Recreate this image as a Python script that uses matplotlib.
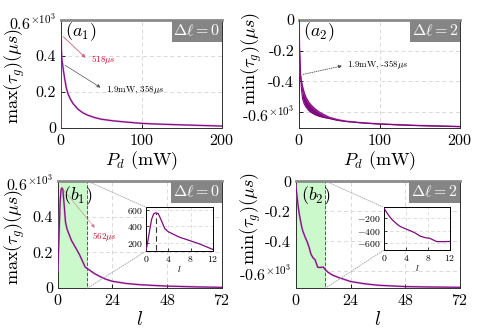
import matplotlib

matplotlib.use("Agg")
import matplotlib.pyplot as plt
from matplotlib.patches import Rectangle, ConnectionPatch
from matplotlib.ticker import FuncFormatter

plt.rcParams["font.family"] = "cmr10"
plt.rcParams["mathtext.fontset"] = "cm"
plt.rcParams["axes.formatter.use_mathtext"] = True
plt.rcParams["axes.unicode_minus"] = False

# ---- data (tau in microseconds) ----
# (a1) max tau_g vs pump power, delta l = 0
P_a1 = [0, 0, 0.3, 0.7, 1.2, 1.9, 3, 4.5, 6.5, 8.7, 12, 15, 21, 27, 33.5,
        42, 50, 65, 79, 100, 120, 141, 170, 200]
tau_a1 = [0, 518, 470, 420, 375, 358, 320, 277, 225, 190, 158, 136, 105, 85,
          71, 58, 49, 40, 34, 26, 22, 19, 15, 11]

# (a2) min tau_g vs pump power, delta l = 2 (band: upper / lower envelope)
P_a2 = [0, 0.3, 0.7, 1.2, 1.9, 3, 4.5, 6.5, 8.7, 12, 15, 20, 25, 30, 37.7,
        48, 58, 79, 100, 141, 170, 200]
tau_a2_hi = [0, -100, -190, -270, -358, -400, -435, -475, -505, -535, -555,
             -580, -600, -615, -635, -650, -660, -671, -678, -687, -691, -695]
tau_a2_lo = [0, -100, -190, -270, -358, -450, -515, -548, -568, -590, -603,
             -618, -628, -635, -643, -655, -662, -672, -679, -688, -692, -696]

# (b1) max tau_g vs l, delta l = 0
l_b1 = [0, 0.4, 1, 1.4, 1.8, 2.2, 2.8, 3.35, 4, 4.8, 6, 7.8, 9.5, 12, 14,
        16, 18.5, 21, 24, 30, 36, 48, 60, 72]
tau_b1 = [98, 247, 482, 553, 562, 553, 463, 372, 333, 306, 267, 227, 188,
          118, 100, 82, 65, 50, 38, 26, 19, 11, 7, 4]

# (b2) min tau_g vs l, delta l = 2
l_b2 = [0, 0.5, 1, 1.5, 2, 2.5, 3, 4, 5, 5.8, 6.6, 7.5, 8.4, 9, 9.6, 10.5,
        12, 13, 14, 16, 19, 24, 30, 36, 48, 60, 72]
tau_b2 = [-30, -100, -165, -220, -260, -300, -330, -370, -405, -440, -485,
          -510, -522, -548, -573, -575, -572, -590, -605, -625, -643, -668,
          -683, -693, -702, -705, -707]

zoom_l = 13  # extent of the shaded (zoomed) region

PURPLE = "#7d0b7d"
LIGHT = "#c86ac8"
GRID = "#d9d9d9"


def sci_fmt(top):
    def f(v, _):
        s = f"{v / 1000:g}"
        if abs(v - top) < 1e-6:
            s += r"$^{\times10^3}$"
        return s
    return FuncFormatter(f)


def style(ax):
    ax.tick_params(direction="in", labelsize=11.5, length=3, width=0.6)
    for s in ax.spines.values():
        s.set_color("#303030")
        s.set_linewidth(0.7)
    ax.spines["top"].set_color("#8c8c8c")
    ax.spines["top"].set_linewidth(2.0)
    ax.grid(True, ls=(0, (4, 3)), color=GRID, lw=0.7)
    ax.set_axisbelow(True)


def tag(ax, text):
    ax.add_patch(Rectangle((0.69, 0.8), 0.31, 0.2, transform=ax.transAxes,
                           facecolor="#858585", edgecolor="none", zorder=5))
    ax.text(0.845, 0.9, text, transform=ax.transAxes, ha="center",
            va="center", color="white", fontsize=11.5, zorder=6)


def curve(ax, x, y, lw=0.8):
    ax.plot(x, y, color=LIGHT, lw=lw + 0.7, alpha=0.6, zorder=3)
    ax.plot(x, y, color=PURPLE, lw=lw, zorder=4)


fig = plt.figure(figsize=(4.78, 3.30), dpi=100)
ax1 = fig.add_axes([0.1276, 0.612, 0.337, 0.327])
ax2 = fig.add_axes([0.6255, 0.612, 0.337, 0.327])
ax3 = fig.add_axes([0.121, 0.127, 0.343, 0.324])
ax4 = fig.add_axes([0.619, 0.127, 0.343, 0.324])

# ---- (a1) ----
style(ax1)
curve(ax1, P_a1, tau_a1)
ax1.set_xlim(0, 200)
ax1.set_ylim(0, 600)
ax1.set_xticks([0, 100, 200])
ax1.set_yticks([0, 200, 400, 600])
ax1.yaxis.set_major_formatter(sci_fmt(600))
ax1.set_xlabel(r"$P_d$ (mW)", fontsize=13, labelpad=1)
ax1.set_ylabel(r"$\max(\tau_g)(\mu s)$", fontsize=13)
ax1.yaxis.set_label_coords(-0.21, 0.48)
ax1.text(0.025, 0.89, r"$(a_1)$", transform=ax1.transAxes, fontsize=13,
         va="center")
tag(ax1, r"$\Delta\ell=0$")
ax1.annotate("", xy=(33, 380), xytext=(0.5, 518),
             arrowprops=dict(arrowstyle="-|>", color="#d2607a", lw=0.6,
                             mutation_scale=5), zorder=6)
ax1.text(37, 380, r"518$\mu s$", color="#c8102e", fontsize=6.5, va="center")
ax1.annotate("", xy=(52, 217), xytext=(1.9, 358),
             arrowprops=dict(arrowstyle="-|>", color="#555555", lw=0.5,
                             mutation_scale=5), zorder=6)
ax1.text(56, 214, r"1.9mW, 358$\mu s$", color="black", fontsize=6.5,
         va="center")

# ---- (a2) ----
style(ax2)
ax2.fill_between(P_a2, tau_a2_lo, tau_a2_hi, color=PURPLE, lw=0, zorder=3)
ax2.plot(P_a2, tau_a2_hi, color=LIGHT, lw=1.3, alpha=0.6, zorder=3)
ax2.plot(P_a2, tau_a2_lo, color=PURPLE, lw=0.8, zorder=4)
ax2.plot(P_a2, tau_a2_hi, color=PURPLE, lw=0.7, zorder=4)
ax2.set_xlim(0, 200)
ax2.set_ylim(-705, 0)
ax2.set_xticks([0, 100, 200])
ax2.set_yticks([-600, -400, -200, 0])
ax2.yaxis.set_major_formatter(sci_fmt(-600))
ax2.set_xlabel(r"$P_d$ (mW)", fontsize=13, labelpad=1)
ax2.set_ylabel(r"$\min(\tau_g)(\mu s)$", fontsize=13)
ax2.yaxis.set_label_coords(-0.22, 0.64)
ax2.text(0.025, 0.89, r"$(a_2)$", transform=ax2.transAxes, fontsize=13,
         va="center")
tag(ax2, r"$\Delta\ell=2$")
ax2.annotate("", xy=(57, -295), xytext=(1.9, -358),
             arrowprops=dict(arrowstyle="-|>", color="#444444", lw=0.6,
                             ls=":", mutation_scale=5), zorder=6)
ax2.text(60, -292, r"1.9mW, -358$\mu s$", color="black", fontsize=6.5,
         va="center")

# ---- (b1) ----
style(ax3)
ax3.axvspan(0, zoom_l, facecolor="#ccf9cc", edgecolor="#3b6e3b", ls="--",
            lw=0.7, zorder=1)
curve(ax3, l_b1, tau_b1)
ax3.set_xlim(0, 72)
ax3.set_ylim(0, 600)
ax3.set_xticks([0, 24, 48, 72])
ax3.set_yticks([0, 200, 400, 600])
ax3.yaxis.set_major_formatter(sci_fmt(600))
ax3.set_xlabel(r"$l$", fontsize=14, labelpad=2)
ax3.set_ylabel(r"$\max(\tau_g)(\mu s)$", fontsize=13)
ax3.yaxis.set_label_coords(-0.19, 0.48)
ax3.text(0.03, 0.86, r"$(b_1)$", transform=ax3.transAxes, fontsize=13,
         va="center", zorder=6)
tag(ax3, r"$\Delta\ell=0$")
i_pk = tau_b1.index(max(tau_b1))
ax3.annotate("", xy=(17, 326), xytext=(l_b1[i_pk], tau_b1[i_pk]),
             arrowprops=dict(arrowstyle="-|>", color="#c9506a", lw=0.5,
                             alpha=0.6, mutation_scale=5), zorder=6)
ax3.text(15, 289, r"562$\mu s$", color="#c8102e", fontsize=6.5, va="center")

in1 = fig.add_axes([0.3054, 0.239, 0.140, 0.133])
in1.plot(l_b1, tau_b1, color=PURPLE, lw=0.9, zorder=3)
in1.plot([l_b1[i_pk], l_b1[i_pk]], [0, tau_b1[i_pk]], color="#333333",
         ls=(0, (5, 3)), lw=0.8)
in1.set_xlim(0, 12)
in1.set_ylim(98, 630)
in1.set_xticks([0, 4, 8, 12])
in1.set_yticks([200, 400, 600])
in1.tick_params(direction="in", labelsize=7, length=2, width=0.5, pad=2)
in1.grid(True, ls=(0, (4, 3)), color=GRID, lw=0.6)
in1.set_xlabel(r"$l$", fontsize=7, labelpad=0)
for s in in1.spines.values():
    s.set_linewidth(0.7)

for (xa, ya), (xb, yb) in [((zoom_l, 600), (0, 1)), ((zoom_l, 0), (0, 0))]:
    fig.add_artist(ConnectionPatch((xa, ya), (xb, yb), coordsA=ax3.transData,
                                   coordsB=in1.transAxes, ls=":", lw=0.6,
                                   color="#999999"))

# ---- (b2) ----
style(ax4)
ax4.axvspan(0, zoom_l, facecolor="#ccf9cc", edgecolor="#3b6e3b", ls="--",
            lw=0.7, zorder=1)
curve(ax4, l_b2, tau_b2)
ax4.set_xlim(0, 72)
ax4.set_ylim(-712, 0)
ax4.set_xticks([0, 24, 48, 72])
ax4.set_yticks([-600, -400, -200, 0])
ax4.yaxis.set_major_formatter(sci_fmt(-600))
ax4.set_xlabel(r"$l$", fontsize=14, labelpad=2)
ax4.set_ylabel(r"$\min(\tau_g)(\mu s)$", fontsize=13)
ax4.yaxis.set_label_coords(-0.2, 0.65)
ax4.text(0.03, 0.86, r"$(b_2)$", transform=ax4.transAxes, fontsize=13,
         va="center", zorder=6)
tag(ax4, r"$\Delta\ell=2$")

in2 = fig.add_axes([0.803, 0.242, 0.138, 0.130])
in2.plot(l_b2, tau_b2, color=PURPLE, lw=0.9, zorder=3)
in2.set_xlim(0, 12)
in2.set_ylim(-712, -19)
in2.set_xticks([0, 4, 8, 12])
in2.set_yticks([-600, -400, -200])
in2.tick_params(direction="in", labelsize=7, length=2, width=0.5, pad=2)
in2.grid(True, ls=(0, (4, 3)), color=GRID, lw=0.6)
in2.set_xlabel(r"$l$", fontsize=7, labelpad=0)
for s in in2.spines.values():
    s.set_linewidth(0.7)

for (xa, ya), (xb, yb) in [((zoom_l, 0), (0, 1)), ((zoom_l, -712), (0, 0))]:
    fig.add_artist(ConnectionPatch((xa, ya), (xb, yb), coordsA=ax4.transData,
                                   coordsB=in2.transAxes, ls=":", lw=0.6,
                                   color="#999999"))

fig.savefig("out.png", dpi=100)
